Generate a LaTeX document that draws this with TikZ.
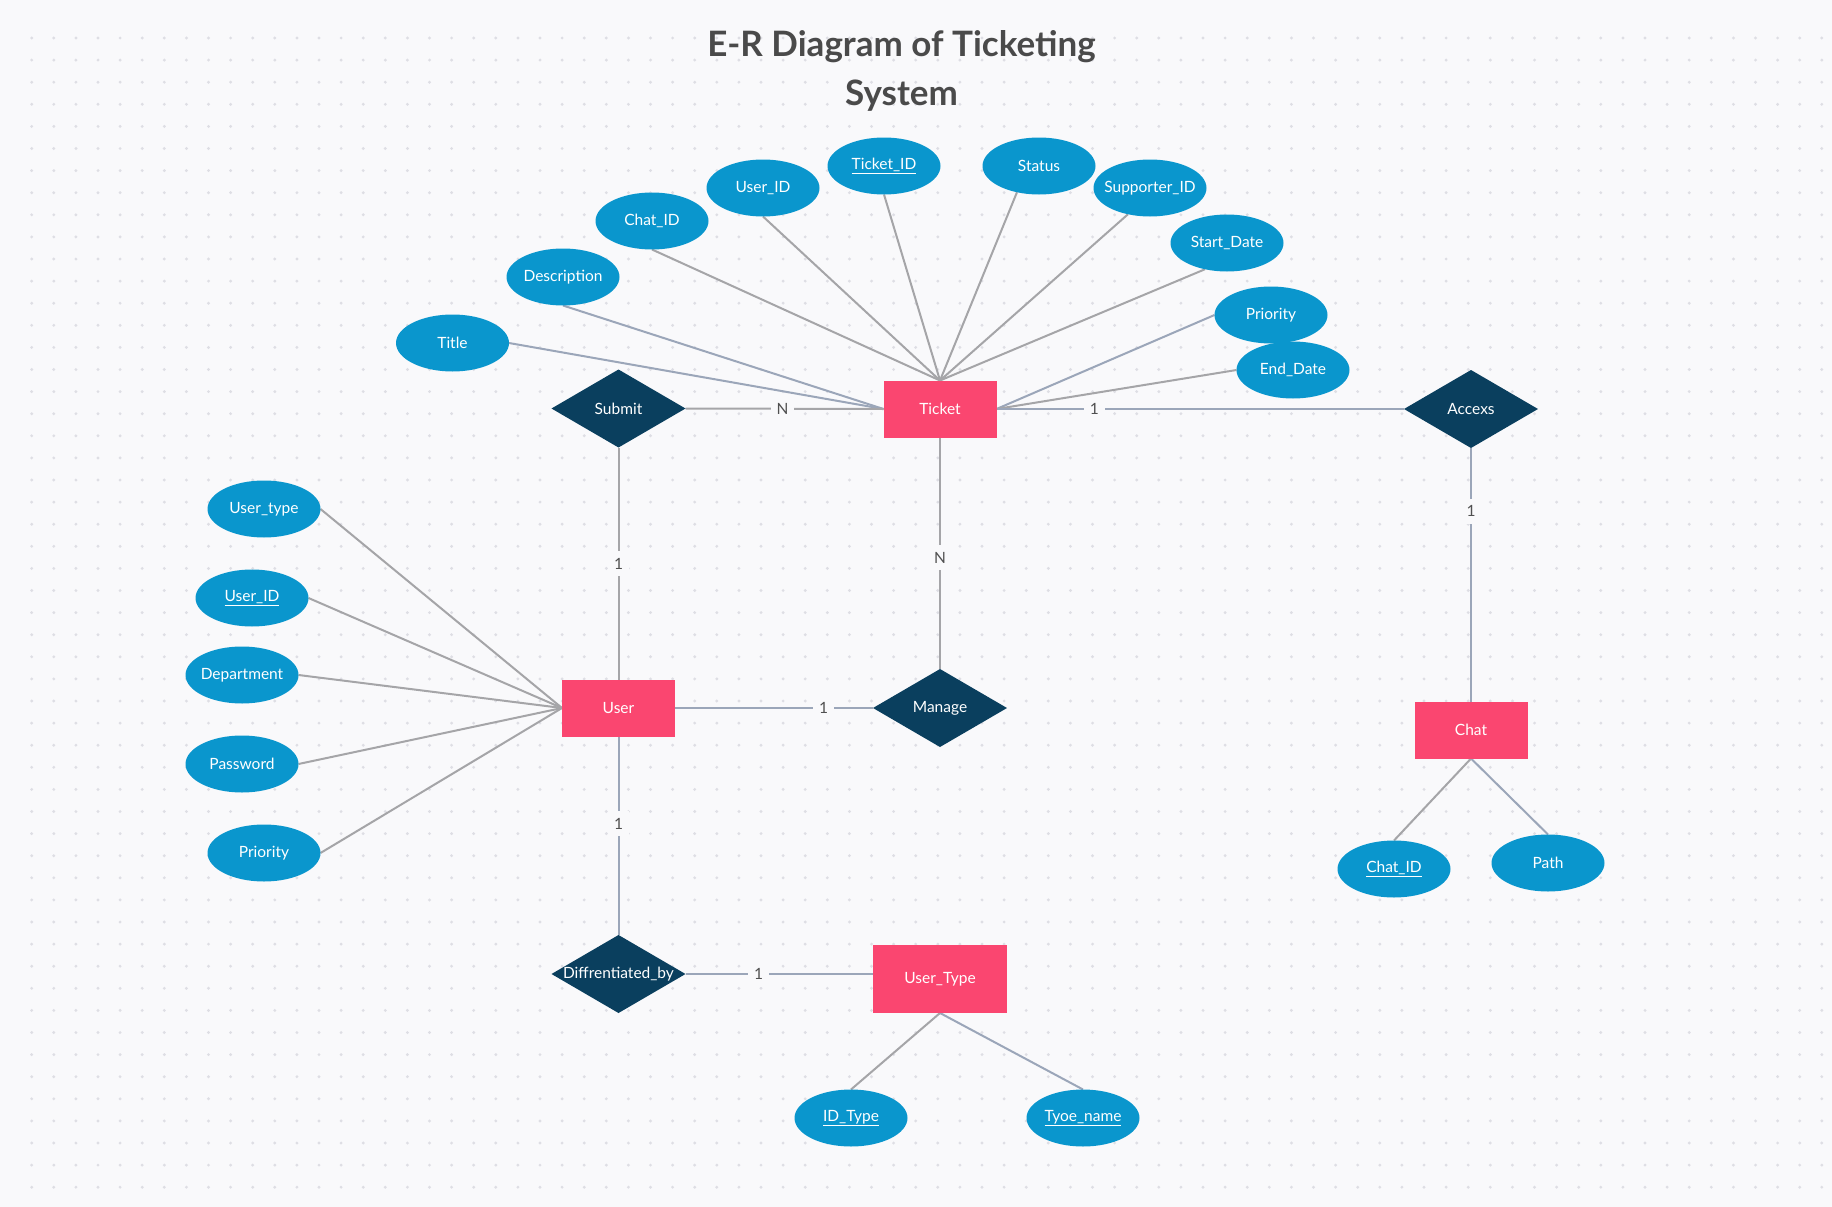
\documentclass[tikz,border=0pt]{standalone}
\usepackage{fontspec}
\setmainfont{Lato}
\usetikzlibrary{shapes.geometric}
\definecolor{bgc}{RGB}{249,249,251}
\definecolor{dotc}{RGB}{222,222,228}
\definecolor{attrc}{RGB}{10,150,205}
\definecolor{entc}{RGB}{250,70,112}
\definecolor{relc}{RGB}{10,63,94}
\definecolor{lng}{RGB}{165,165,168}
\definecolor{lnb}{RGB}{155,166,185}
\definecolor{lblc}{RGB}{80,80,80}
\definecolor{titlec}{RGB}{74,74,74}
\pgfdeclarelayer{bg}
\pgfdeclarelayer{edges}
\pgfsetlayers{bg,edges,main}
\newcommand\tx[1]{\makebox[0pt]{#1}}
\tikzset{
  attr/.style={ellipse, fill=attrc, minimum width=113, minimum height=57, inner sep=0, outer sep=0, text=white, font=\fontsize{15.5}{18}\selectfont},
  ent/.style={rectangle, fill=entc, minimum width=113, minimum height=57, inner sep=0, outer sep=0, text=white, font=\fontsize{15.5}{18}\selectfont},
  rel/.style={diamond, fill=relc, minimum width=134, minimum height=78, inner sep=0, outer sep=0, text=white, font=\fontsize{15.5}{18}\selectfont},
  cg/.style={line width=2, draw=lng},
  cb/.style={line width=2, draw=lnb},
  card/.style={fill=bgc, text=lblc, inner xsep=6, inner ysep=7, font=\fontsize{15.5}{18}\selectfont},
}
\begin{document}
\begin{tikzpicture}[x=1pt,y=-1pt]
\useasboundingbox (0,0) rectangle (1832,1207);
\begin{pgfonlayer}{bg}
  \fill[bgc] (0,0) rectangle (1832,1207);
  \foreach \i in {0,...,81}
    \foreach \j in {0,...,52}
      \fill[dotc] (31.7+22.1*\i, 38+22.1*\j) circle (1.6);
\end{pgfonlayer}

\node[anchor=north, inner sep=0, text=titlec, align=center, font=\bfseries\fontsize{35}{49}\selectfont] (title) at (901.5,30.5) {E-R Diagram of Ticketing\\System};

% entities and relationships
\node[ent] (ticket) at (940,409) {\tx{Ticket}};
\node[ent] (user) at (618.5,708) {\tx{User}};
\node[ent] (chat) at (1471,730) {\tx{Chat}};
\node[ent, minimum width=134, minimum height=68] (utype) at (940,979) {\tx{User\_Type}};
\node[rel] (submit) at (618.5,408.5) {\tx{Submit}};
\node[rel] (accexs) at (1471,409) {\tx{Accexs}};
\node[rel] (manage) at (940,708) {\tx{Manage}};
\node[rel] (diff) at (618.5,974) {\tx{Diffrentiated\_by}};

% ticket attributes
\node[attr] (aTitle) at (452.5,343) {\tx{Title}};
\node[attr] (aDesc) at (563,277) {\tx{Description}};
\node[attr] (aChat) at (652,221) {\tx{Chat\_ID}};
\node[attr] (aUid) at (763,188) {\tx{User\_ID}};
\node[attr] (aTid) at (884,166) {\tx{\underline{Ticket\_ID}}};
\node[attr] (aStatus) at (1039,166) {\tx{Status}};
\node[attr] (aSup) at (1150,188) {\tx{Supporter\_ID}};
\node[attr] (aStart) at (1227,243) {\tx{Start\_Date}};
\node[attr] (aPrio) at (1271,315) {\tx{Priority}};
\node[attr] (aEnd) at (1293,370) {\tx{End\_Date}};

% user attributes
\node[attr] (uType) at (264,509) {\tx{User\_type}};
\node[attr] (uId) at (252,598) {\tx{\underline{User\_ID}}};
\node[attr] (uDept) at (242,675) {\tx{Department}};
\node[attr] (uPass) at (242,764) {\tx{Password}};
\node[attr] (uPrio) at (264,853) {\tx{Priority}};

% chat attributes
\node[attr] (cId) at (1394,869) {\tx{\underline{Chat\_ID}}};
\node[attr] (cPath) at (1548,863) {\tx{Path}};

% user type attributes
\node[attr] (tId) at (851,1118) {\tx{\underline{ID\_Type}}};
\node[attr] (tName) at (1083,1118) {\tx{\underline{Tyoe\_name}}};

\begin{pgfonlayer}{edges}
  % ticket attributes
  \draw[cb] (aTitle.east) -- (ticket.west);
  \draw[cb] (aDesc.south) -- (ticket.west);
  \draw[cg] (aChat.south) -- (ticket.north);
  \draw[cg] (aUid.south) -- (ticket.north);
  \draw[cg] (aTid.south) -- (ticket.north);
  \draw[cg] (aStatus.230) -- (ticket.north);
  \draw[cg] (aSup.230) -- (ticket.north);
  \draw[cg] (aStart.230) -- (ticket.north);
  \draw[cb] (aPrio.west) -- (ticket.east);
  \draw[cg] (aEnd.west) -- (ticket.east);
  % user attributes
  \draw[cg] (uType.east) -- (user.west);
  \draw[cg] (uId.east) -- (user.west);
  \draw[cg] (uDept.east) -- (user.west);
  \draw[cg] (uPass.east) -- (user.west);
  \draw[cg] (uPrio.east) -- (user.west);
  % chat attributes
  \draw[cg] (chat.south) -- (cId.north);
  \draw[cb] (chat.south) -- (cPath.north);
  % user type attributes
  \draw[cg] (utype.south) -- (tId.north);
  \draw[cb] (utype.south) -- (tName.north);
  % relationships
  \draw[cg] (submit.east) -- node[card, pos=0.49] {N} (ticket.west);
  \draw[cb] (ticket.east) -- node[card, pos=0.24] {1} (accexs.west);
  \draw[cg] (submit.south) -- node[card, pos=0.5] {1} (user.north);
  \draw[cg] (ticket.south) -- node[card, pos=0.52] {N} (manage.north);
  \draw[cb] (user.east) -- node[card, pos=0.75] {1} (manage.west);
  \draw[cb] (user.south) -- node[card, pos=0.44] {1} (diff.north);
  \draw[cb] (diff.east) -- node[card, pos=0.39] {1} (diff.east -| utype.west);
  \draw[cb] (accexs.south) -- node[card, pos=0.25] {1} (chat.north);
\end{pgfonlayer}
\end{tikzpicture}
\end{document}
